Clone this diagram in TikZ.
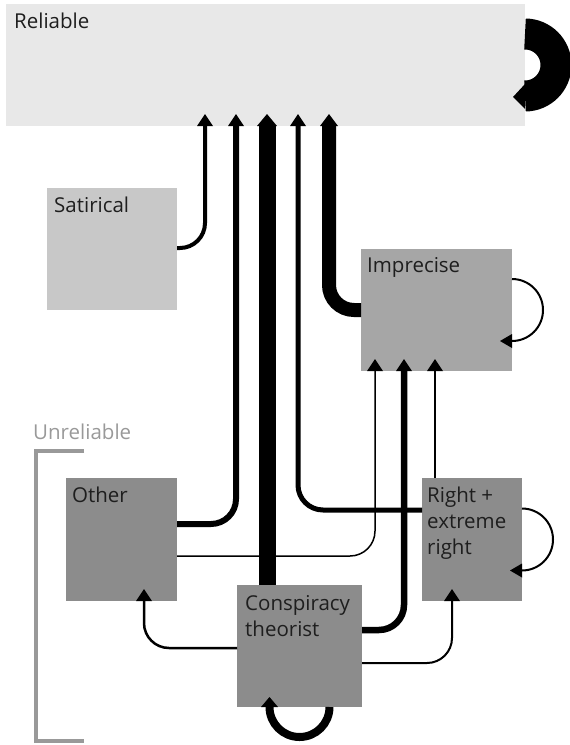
\documentclass[tikz,border=0pt]{standalone}
\usepackage{fontspec}
\setmainfont{Open Sans}
\usetikzlibrary{arrows.meta}
\definecolor{relc}{HTML}{E8E8E8}
\definecolor{satc}{HTML}{C8C8C8}
\definecolor{impc}{HTML}{A6A6A6}
\definecolor{unrc}{HTML}{8C8C8C}
\definecolor{txtc}{HTML}{1E1E1E}
\definecolor{brc}{HTML}{999999}
\tikzset{
  box/.style={rectangle, draw=none, inner sep=0pt, outer sep=0pt, anchor=north west},
  lbl/.style={font=\fontsize{20.5}{26}\selectfont, text=txtc, inner sep=0pt, anchor=base west},
  conn/.style={draw=black, rounded corners=25pt, line cap=butt, shorten >=-12pt},
  tipthin/.style={-{Triangle[length=12pt,width=16pt,line width=0pt]}},
}
\begin{document}
\begin{tikzpicture}[x=1pt,y=1pt]
\useasboundingbox (0,0) rectangle (570,-745);
% boxes
\node[box, fill=relc, minimum width=519pt, minimum height=122pt] (rel) at (6,-4) {};
\node[box, fill=satc, minimum width=130pt, minimum height=122pt] (sat) at (47,-188) {};
\node[box, fill=impc, minimum width=151pt, minimum height=122pt] (imp) at (361,-249) {};
\node[box, fill=unrc, minimum width=111pt, minimum height=123pt] (oth) at (66,-478) {};
\node[box, fill=unrc, minimum width=100pt, minimum height=123pt] (rgt) at (422,-478) {};
\node[box, fill=unrc, minimum width=125pt, minimum height=122pt] (con) at (237,-585) {};
% labels
\node[lbl] (relL) at ([xshift=8pt,yshift=-24pt]rel.north west) {Reliable};
\node[lbl] (satL) at ([xshift=7pt,yshift=-24pt]sat.north west) {Satirical};
\node[lbl] (impL) at ([xshift=6pt,yshift=-23pt]imp.north west) {Imprecise};
\node[lbl] (othL) at ([xshift=6pt,yshift=-24pt]oth.north west) {Other};
\node[lbl] (rgtL) at ([xshift=5pt,yshift=-24pt]rgt.north west) {\begin{tabular}[t]{@{}l@{}}Right +\\extreme\\right\end{tabular}};
\node[lbl] (conL) at ([xshift=8pt,yshift=-25pt]con.north west) {\begin{tabular}[t]{@{}l@{}}Conspiracy\\theorist\end{tabular}};
\node[lbl, text=brc] (unrL) at (33,-439) {Unreliable};
% bracket
\draw[brc, line width=3.5pt] (84,-451) -| (36,-741) -- (84,-741);
% connectors to Reliable
\draw[conn, line width=4pt, tipthin] (sat.east |- 0,-248) -| (205,0 |- rel.south);
\draw[conn, line width=6pt, tipthin] (oth.east |- 0,-524) -| (236,0 |- rel.south);
\draw[conn, line width=17pt, -{Triangle[length=12pt,width=20pt,line width=0pt]}] (267,0 |- con.north) -- (267,0 |- rel.south);
\draw[conn, line width=5pt, tipthin] (rgt.west |- 0,-510) -| (298,0 |- rel.south);
\draw[conn, line width=14pt, -{Triangle[length=12pt,width=18pt,line width=0pt]}] (imp.west) -| (329,0 |- rel.south);
% connectors to Imprecise
\draw[conn, line width=1.5pt, tipthin] (oth.east |- 0,-556) -| (375,0 |- imp.south);
\draw[conn, line width=6.5pt, tipthin] (con.east |- 0,-630) -| (404,0 |- imp.south);
\draw[conn, line width=2.5pt, tipthin] (435,0 |- rgt.north) -- (435,0 |- imp.south);
% from Conspiracy
\draw[conn, line width=2.5pt, tipthin] (con.west |- 0,-648) -| (144,0 |- oth.south);
\draw[conn, line width=2pt, tipthin] (con.east |- 0,-663) -| (452,0 |- rgt.south);
% self loops
\draw[line width=31pt] ([yshift=31pt]rel.east) arc[start angle=90,end angle=-90,radius=31pt];
\fill ([yshift=-19pt]rel.east) -- ++(-12,-13) -- ++(12,-12) -- cycle;
\draw[line width=2pt, -{Triangle[length=12pt,width=14pt,line width=0pt]}] ([yshift=31pt]imp.east) arc[start angle=90,end angle=-90,radius=31pt] -- ++(-12,0);
\draw[line width=2pt, -{Triangle[length=12pt,width=14pt,line width=0pt]}] ([yshift=31pt]rgt.east) arc[start angle=90,end angle=-90,radius=31pt] -- ++(-12,0);
\draw[line width=8pt, -{Triangle[length=10pt,width=17pt,line width=0pt]}] ([xshift=30pt]con.south) arc[start angle=0,end angle=-180,radius=30pt] -- ++(0,10);
\end{tikzpicture}
\end{document}
